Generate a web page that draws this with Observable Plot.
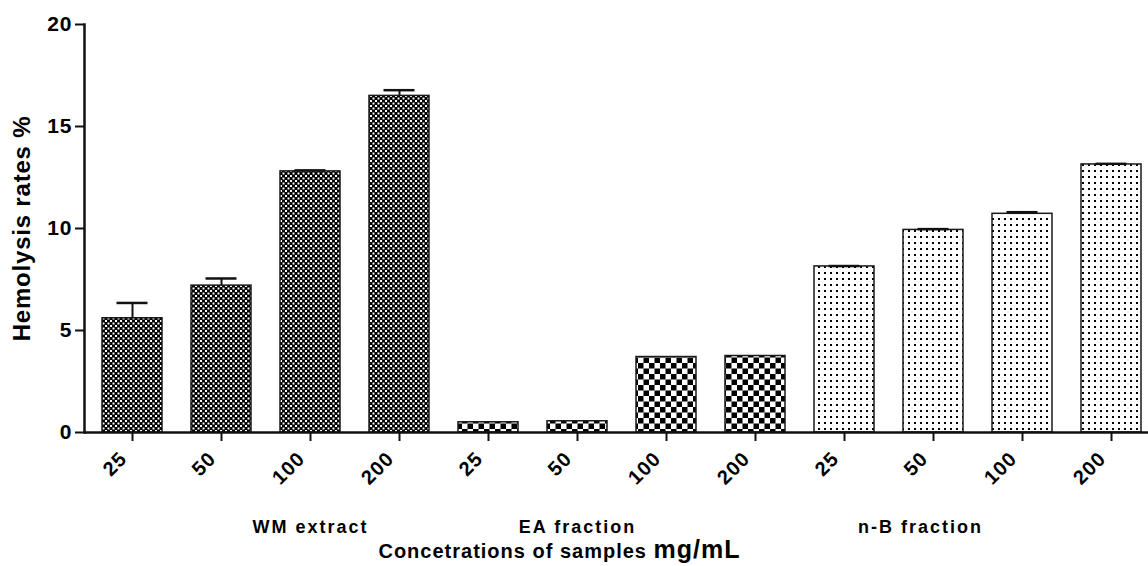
<!DOCTYPE html>
<html>
<head>
<meta charset="utf-8">
<script src="https://cdn.jsdelivr.net/npm/d3@7"></script>
<script src="https://cdn.jsdelivr.net/npm/@observablehq/plot@0.6"></script>
<style>
  html, body { margin: 0; padding: 0; background: #fff; overflow: hidden; }
  svg { font-family: "Liberation Sans", Arial, sans-serif; }
</style>
</head>
<body>
<div id="chart"></div>
<script>
// Data
const groups = ["WM extract", "EA fraction", "n-B fraction"];
const concentrations = ["25", "50", "100", "200"];
const wmValues = [5.6, 7.2, 12.8, 16.5];
const wmErrors = [0.75, 0.35, 0.05, 0.28];
const eaValues = [0.5, 0.55, 3.7, 3.75];
const eaErrors = [0.0, 0.0, 0.0, 0.0];
const nbValues = [8.14, 9.93, 10.72, 13.14];
const nbErrors = [0.02, 0.04, 0.08, 0.03];
const yTicks = [0, 5, 10, 15, 20];
const groupPatterns = ["pWM", "pEA", "pNB"];

const allValues = [wmValues, eaValues, nbValues];
const allErrors = [wmErrors, eaErrors, nbErrors];
const data = [];
groups.forEach((g, gi) => {
  concentrations.forEach((c, ci) => {
    data.push({key: g + "|" + c, group: g, conc: c, value: allValues[gi][ci], err: allErrors[gi][ci], pattern: groupPatterns[gi]});
  });
});
const keys = data.map(d => d.key);

const groupLabels = [
  {group: "WM extract", anchor: "WM extract|100"},
  {group: "EA fraction", anchor: "EA fraction|50"},
  {group: "n-B fraction", anchor: "n-B fraction|50"}
];

const font = "'Liberation Sans', Arial, sans-serif";

const plot = Plot.plot({
  width: 1148,
  height: 566,
  marginLeft: 84,
  marginRight: 0,
  marginTop: 24,
  marginBottom: 134,
  style: {fontFamily: font, background: "white", overflow: "visible"},
  x: {domain: keys, range: [84, 1158], paddingInner: 0.33, paddingOuter: 0.165, label: null},
  y: {domain: [0, 20], label: null},
  color: {type: "identity"},
  marks: [
    Plot.barY(data, {x: "key", y: "value", fill: d => `url(#${d.pattern})`, stroke: "#1a1a1a", strokeWidth: 1.5}),
    Plot.ruleX(data.filter(d => d.err > 0), {x: "key", y1: "value", y2: d => d.value + d.err, stroke: "#111", strokeWidth: 2}),
    Plot.tickY(data.filter(d => d.err > 0), {x: "key", y: d => d.value + d.err, stroke: "#111", strokeWidth: 2.5, insetLeft: 14.5, insetRight: 14.5}),
    Plot.axisY({ticks: yTicks, tickSize: 9, tickPadding: 3, tickFormat: d3.format("d"), fontSize: 21, fontWeight: "bold", stroke: "#111", strokeWidth: 2, label: null, fill: "#000"}),
    Plot.axisX({tickSize: 9, tickPadding: 5, tickRotate: -45, tickFormat: k => k.split("|")[1], fontSize: 20, fontWeight: "bold", strokeWidth: 2, stroke: "#111", label: null, fill: "#000"}),
    Plot.frame({anchor: "left", stroke: "#111", strokeWidth: 2.5}),
    Plot.ruleY([0], {stroke: "#111", strokeWidth: 2.5}),
    Plot.text(groupLabels, {x: "anchor", text: "group", frameAnchor: "bottom", lineAnchor: "bottom", dy: 100, fontSize: 18, fontWeight: "bold", fill: "#000"}),
    Plot.text(["Hemolysis rates %"], {text: d => d, frameAnchor: "left", textAnchor: "middle", rotate: -90, dx: -62, lineAnchor: "middle", fontSize: 24, fontWeight: "bold", fill: "#000"}),
    Plot.text(["Concetrations of samples "], {text: d => d, frameAnchor: "bottom", lineAnchor: "bottom", textAnchor: "end", dx: 653 - 616, dy: 125, fontSize: 20, fontWeight: "bold", fill: "#000"}),
    Plot.text(["mg/mL"], {text: d => d, frameAnchor: "bottom", lineAnchor: "bottom", textAnchor: "start", dx: 653 - 616, dy: 125, fontSize: 25, fontWeight: "bold", fill: "#000"})
  ]
});

// patterns
const defs = d3.select(plot).insert("defs", ":first-child");
const pWM = defs.append("pattern").attr("id", "pWM").attr("patternUnits", "userSpaceOnUse").attr("width", 5).attr("height", 5);
pWM.append("rect").attr("width", 5).attr("height", 5).attr("fill", "#000");
pWM.append("rect").attr("x", 0).attr("y", 0).attr("width", 2).attr("height", 2).attr("fill", "#fff");
pWM.append("rect").attr("x", 2.5).attr("y", 2.5).attr("width", 2).attr("height", 2).attr("fill", "#fff");
const pEA = defs.append("pattern").attr("id", "pEA").attr("patternUnits", "userSpaceOnUse").attr("width", 11).attr("height", 11);
pEA.append("rect").attr("width", 11).attr("height", 11).attr("fill", "#fff");
pEA.append("rect").attr("x", 0).attr("y", 0).attr("width", 5.5).attr("height", 5.5).attr("fill", "#000");
pEA.append("rect").attr("x", 5.5).attr("y", 5.5).attr("width", 5.5).attr("height", 5.5).attr("fill", "#000");
const pNB = defs.append("pattern").attr("id", "pNB").attr("patternUnits", "userSpaceOnUse").attr("width", 6).attr("height", 6);
pNB.append("rect").attr("width", 6).attr("height", 6).attr("fill", "#fff");
pNB.append("rect").attr("x", 2).attr("y", 2).attr("width", 2).attr("height", 2).attr("fill", "#000");

// text tweaks: spacing and small offsets
const svgSel = d3.select(plot);
svgSel.selectAll("text").each(function() {
  const t = this.textContent;
  if (t === "n-B fraction") this.setAttribute("dx", -13);
  if (groups.includes(t)) this.style.letterSpacing = "2px";
  if (t === "Hemolysis rates %") this.style.letterSpacing = "0.8px";
  if (t.startsWith("Concetrations")) this.style.letterSpacing = "1px";
  if (t === "mg/mL") this.style.letterSpacing = "1px";
});
svgSel.selectAll('g[aria-label="y-axis tick label"] text').style("letter-spacing", "1px");
const xLab = svgSel.select('g[aria-label="x-axis tick label"]');
xLab.selectAll("text").style("letter-spacing", "1px");
xLab.attr("transform", function() {
  const prev = this.getAttribute("transform") || "";
  return prev + " translate(-9,9)";
});

document.getElementById("chart").appendChild(plot);
</script>
</body>
</html>
